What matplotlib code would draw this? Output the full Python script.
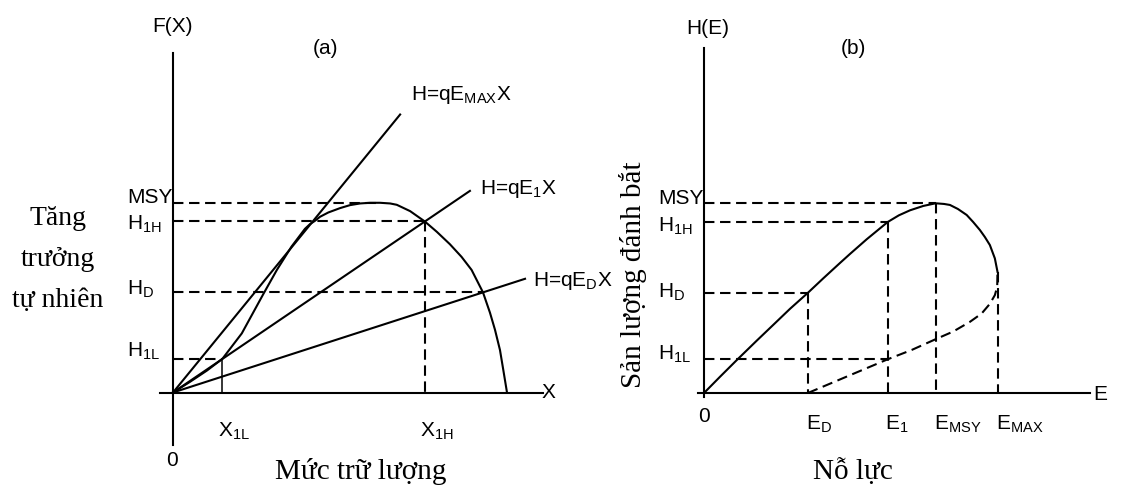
import matplotlib.pyplot as plt

plt.rcParams['mathtext.fontset'] = 'custom'
plt.rcParams['mathtext.rm'] = 'Liberation Sans'
plt.rcParams['mathtext.it'] = 'Liberation Sans:italic'
plt.rcParams['mathtext.bf'] = 'Liberation Sans:bold'

W, H = 1121, 488
SANS = ['Liberation Sans', 'DejaVu Sans']
SERIF = ['Liberation Serif', 'DejaVu Serif']

# panel (a): natural growth F(X) against stock X (carrying capacity = 100)
stock = [0, 5.1, 10.2, 14.8, 20.6, 27.0, 31.1, 35.5, 39.5, 41.0, 42.5, 44.0,
         46.5, 50.0, 53.0, 56.0, 59.0, 62.0, 65.0, 67.0, 71.0, 75.4, 79.0,
         82.9, 86.4, 89.4, 92.8, 94.9, 96.4, 97.9, 98.9, 100]
growth = [0, 3.2, 6.6, 10.1, 17.7, 29.4, 36.7, 43.7, 49.0, 50.4, 51.4, 52.6,
          53.9, 55.2, 56.1, 56.6, 56.8, 56.8, 56.6, 56.2, 54.3, 51.2, 48.1,
          44.4, 40.6, 36.7, 30.0, 23.9, 18.8, 12.7, 6.7, 0]

# harvest levels shared by both panels
MSY, H_1H, H_D, H_1L = 56.8, 51.2, 30.0, 10.1
X_1L, X_1H, X_MSY, X_D = 14.8, 75.4, 62.0, 92.8

# harvest lines H = qEX : slope and where each line stops
q_effort = [1.224, 0.679, 0.323]
line_end = [68.0, 88.9, 105.4]
line_labels = [r'H=qE$_{\mathrm{MAX}}$X', r'H=qE$_{\mathrm{1}}$X', r'H=qE$_{\mathrm{D}}$X']
label_shift = [(11, 15), (10, -3), (8, -7)]

# panel (b): yield H(E) against effort E (E_MAX = 100)
effort_hi = [0, 5.5, 11.1, 18.0, 23.6, 29.3, 35.4, 40.6, 46.3, 49.7, 53.2,
             55.4, 59.0, 62.6, 66.4, 70.2, 74.7, 78.9, 81.8, 83.8, 86.5,
             89.5, 91.7, 94.0, 95.7, 97.4, 99.1, 100]
harvest_hi = [0, 4.9, 9.8, 15.7, 20.4, 25.2, 30.0, 34.3, 38.9, 41.6, 44.3,
              46.0, 48.6, 51.2, 53.2, 54.7, 56.0, 56.8, 56.6, 56.3, 55.1,
              53.3, 51.2, 48.8, 46.7, 44.3, 40.3, 36.3]
effort_lo = [35.4, 62.6, 70.8, 78.9, 84.9, 90.6, 94.6, 97.4, 99.1, 99.9, 100]
harvest_lo = [0, 10.1, 12.9, 16.1, 18.4, 21.3, 23.8, 26.7, 29.3, 31.8, 36.3]
E_D, E_1, E_MSY, E_MAX = 35.4, 62.6, 78.9, 100.0

LW = 1.5
DASH = dict(color='black', lw=LW, ls=(0, (5, 2.7)))
TICK_FS = 15


def make_axes(fig, left_px, right_px, origin_x, origin_y, sx, sy):
    ax = fig.add_axes([left_px / W, 0, (right_px - left_px) / W, 1])
    ax.set_xlim((left_px - origin_x) / sx, (right_px - origin_x) / sx)
    ax.set_ylim((origin_y - H) / sy, origin_y / sy)
    ax.axis('off')
    return ax


def ftext(fig, x, y, s, **kw):
    fig.text(x / W, 1 - y / H, s, **kw)


def tick(ax, s, xy, dx, dy, ha='left', va='baseline'):
    ax.annotate(s, xy=xy, xytext=(dx, dy), textcoords='offset pixels',
                ha=ha, va=va, fontsize=TICK_FS, family=SANS)


fig = plt.figure(figsize=(W / 100, H / 100), dpi=100)

# ---- (a) growth curve and harvest lines
ax = make_axes(fig, 140, 560, 173, 392.5, 3.34, 3.34)
ax.plot([0, 0], [-15.7, 101.6], color='black', lw=LW)
ax.plot([-3.9, 110.8], [0, 0], color='black', lw=LW)
ax.plot(stock, growth, color='black', lw=LW)
for q, end, lab, (dx, dy) in zip(q_effort, line_end, line_labels, label_shift):
    ax.plot([0, end], [0, q * end], color='black', lw=LW)
    tick(ax, lab, (end, q * end), dx, dy)

ax.plot([0, X_MSY], [MSY, MSY], **DASH)
ax.plot([0, X_1H], [H_1H, H_1H], **DASH)
ax.plot([X_1H, X_1H], [H_1H, 0], **DASH)
ax.plot([0, X_D], [H_D, H_D], **DASH)
ax.plot([0, X_1L], [H_1L, H_1L], **DASH)
ax.plot([X_1L, X_1L], [H_1L, 0], color='black', lw=1.1)

for lab, lev, dy in [('MSY', MSY, 0), (r'$\mathrm{H_{1H}}$', H_1H, -8),
                     (r'$\mathrm{H_{D}}$', H_D, -2), (r'$\mathrm{H_{1L}}$', H_1L, 2)]:
    tick(ax, lab, (0, lev), -46, dy)
tick(ax, r'$\mathrm{X_{1L}}$', (X_1L, 0), -4, -44)
tick(ax, r'$\mathrm{X_{1H}}$', (X_1H, 0), -5, -44)
tick(ax, '0', (0, 0), -1, -68, ha='center', va='center')

# ---- (b) yield-effort curve
bx = make_axes(fig, 600, 1121, 704, 393, 2.935, 3.34)
bx.plot([0, 0], [-1.2, 103.4], color='black', lw=LW)
bx.plot([-2.0, 131.5], [0, 0], color='black', lw=LW)
bx.plot(effort_hi, harvest_hi, color='black', lw=LW)
bx.plot(effort_lo, harvest_lo, **DASH)

bx.plot([0, E_MSY], [MSY, MSY], **DASH)
bx.plot([E_MSY, E_MSY], [MSY, 0], **DASH)
bx.plot([0, E_1], [H_1H, H_1H], **DASH)
bx.plot([E_1, E_1], [H_1H, 0], **DASH)
bx.plot([0, E_D], [H_D, H_D], **DASH)
bx.plot([E_D, E_D], [H_D, 0], **DASH)
bx.plot([0, E_1], [H_1L, H_1L], **DASH)
bx.plot([E_MAX, E_MAX], [harvest_hi[-1], 0], **DASH)

for lab, lev, dy in [('MSY', MSY, -1), (r'$\mathrm{H_{1H}}$', H_1H, -10),
                     (r'$\mathrm{H_{D}}$', H_D, -5), (r'$\mathrm{H_{1L}}$', H_1L, 0)]:
    tick(bx, lab, (0, lev), -46, dy)
tick(bx, '0', (0, 0), 0, -24, ha='center', va='center')
for lab, val, dx in [(r'$\mathrm{E_{D}}$', E_D, -2), (r'$\mathrm{E_{1}}$', E_1, -3),
                     (r'$\mathrm{E_{MSY}}$', E_MSY, -2), (r'$\mathrm{E_{MAX}}$', E_MAX, -1)]:
    tick(bx, lab, (val, 0), dx, -37)

# ---- axis names and titles
for x, y, s in [(173, 27, 'F(X)'), (325, 48, '(a)'), (548, 393, 'X'),
                (708, 28, 'H(E)'), (853, 49, '(b)'), (1100, 394, 'E')]:
    ftext(fig, x, y, s, ha='center', va='center', fontsize=TICK_FS, family=SANS)

for word, base in [('Tăng', 225), ('trưởng', 266), ('tự nhiên', 307)]:
    ftext(fig, 58, base, word, ha='center', va='baseline', fontsize=20, family=SERIF)
ftext(fig, 361, 479, 'Mức trữ lượng', ha='center', va='baseline', fontsize=21, family=SERIF)
ftext(fig, 853, 479, 'Nỗ lực', ha='center', va='baseline', fontsize=21, family=SERIF)
ftext(fig, 633, 275, 'Sản lượng đánh bắt', ha='center', va='center', rotation=90,
      fontsize=21, family=SERIF)

fig.savefig('out.png', dpi=100)
